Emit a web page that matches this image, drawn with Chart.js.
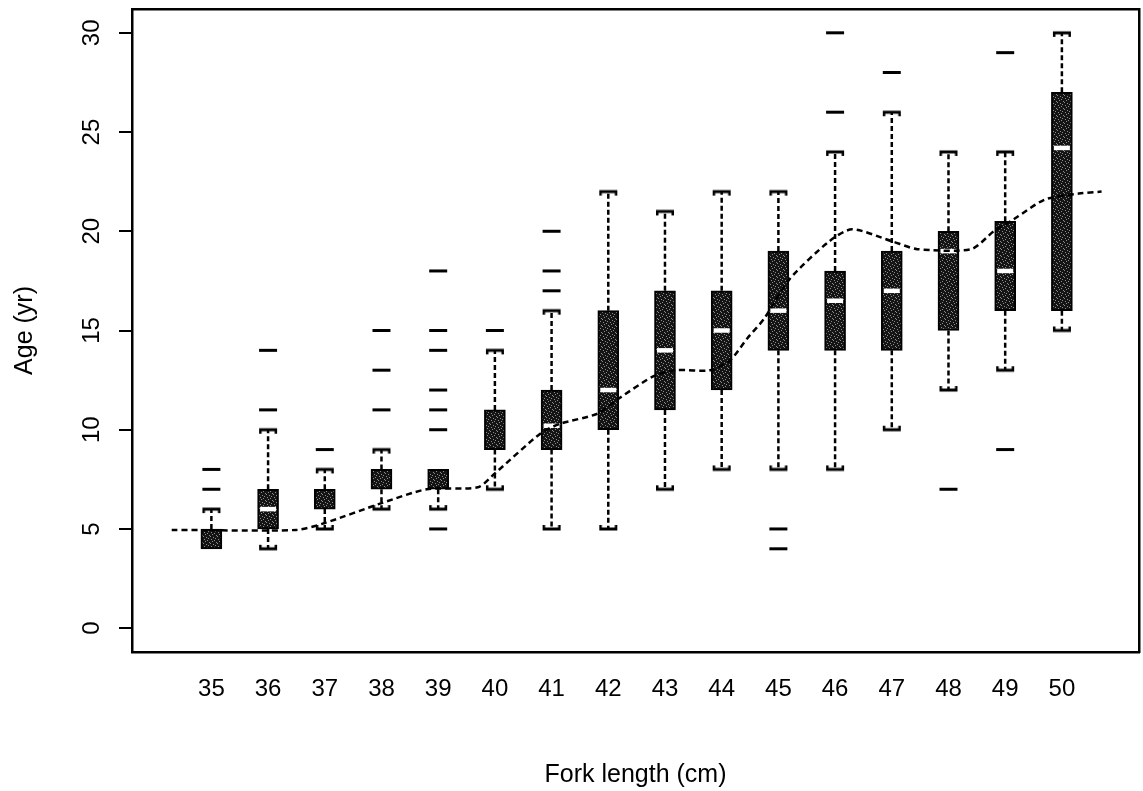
<!DOCTYPE html>
<html>
<head>
<meta charset="utf-8">
<script src="https://cdn.jsdelivr.net/npm/chart.js@4"></script>
<style>
  html, body { margin: 0; padding: 0; background: #fff; }
  #wrap { width: 1143px; height: 791px; position: relative; }
</style>
</head>
<body>
<div id="wrap"><canvas id="c" width="1143" height="791"></canvas></div>
<script>
// ---- data ----
const categories = [35, 36, 37, 38, 39, 40, 41, 42, 43, 44, 45, 46, 47, 48, 49, 50];
const q1     = [4,   5,   6,   7,   7,   9,  9,    10, 11, 12, 14, 14,   14, 15, 16,   16];
const median = [null, 6, null, null, null, null, 10.2, 12, 14, 15, 16, 16.5, 17, 19, 18, 24.2];
const q3     = [5,   7,   7,   8,   8,   11, 12,   16, 17, 17, 19, 18,   19, 20, 20.5, 27];
const whiskLo = [4,  4,   5,   6,   6,   7,  5,    5,  7,  8,  8,  8,    10, 12, 13,   15];
const whiskHi = [6,  10,  8,   9,   8,   14, 16,   22, 21, 22, 22, 24,   26, 24, 24,   30];
const outliers = [
  [7, 8], [11, 14], [9], [11, 13, 15], [5, 10, 11, 12, 14, 15, 18], [15],
  [17, 18, 20], [], [], [], [4, 5], [26, 30], [28], [7], [9, 29], []
];
const trendX = [34.3, 36.5, 37.0, 38.0, 38.8, 39.7, 40.0, 40.8, 41.15, 41.8, 42.2, 42.8, 43.2, 43.8,
                44.15, 44.45, 44.75, 45.2, 45.9, 46.3, 47.0, 47.45, 48.4, 48.8, 49.15, 49.7, 50.3, 50.7];
const trendY = [4.95, 4.95, 5.3, 6.3, 7.0, 7.1, 7.8, 9.8, 10.3, 10.8, 11.6, 12.7, 13.0, 13.0,
                13.5, 14.6, 15.6, 17.6, 19.5, 20.1, 19.5, 19.1, 19.1, 20.0, 20.6, 21.6, 21.9, 22.0];
const yTicks = [0, 5, 10, 15, 20, 25, 30];
const xTitle = 'Fork length (cm)';
const yTitle = 'Age (yr)';

// ---- styling helpers ----
const FONT = "'Liberation Sans', Arial, Helvetica, sans-serif";
const canvas = document.getElementById('c');
const ctx = canvas.getContext('2d');

function speckle() {
  const c = document.createElement('canvas');
  c.width = 7; c.height = 7;
  const g = c.getContext('2d');
  g.fillStyle = '#141414'; g.fillRect(0, 0, 7, 7);
  g.fillStyle = '#8c8c8c';
  [[1,0],[4,1],[6,3],[0,4],[3,5],[5,6],[2,2]].forEach(p => g.fillRect(p[0], p[1], 1, 1));
  return ctx.createPattern(c, 'repeat');
}
function capImage(top) {
  const c = document.createElement('canvas');
  c.width = 20; c.height = 16;
  const g = c.getContext('2d');
  g.fillStyle = '#000';
  g.fillRect(1, 6.5, 18, 3);
  if (top) { g.fillRect(1, 7, 2.5, 5); g.fillRect(16.5, 7, 2.5, 5); }
  else { g.fillRect(1, 4, 2.5, 5); g.fillRect(16.5, 4, 2.5, 5); }
  return c;
}
function noPad(s) { s.paddingTop = 0; s.paddingBottom = 0; s.paddingLeft = 0; s.paddingRight = 0; }

// ---- build datasets from the arrays ----
const boxData = categories.map((c, i) => ({ x: c, y: [q1[i], q3[i]] }));
const medData = categories.map((c, i) => ({ x: c, y: median[i] })).filter(p => p.y !== null);
const whiskData = [];
categories.forEach((c, i) => {
  whiskData.push({ x: c, y: q3[i] }, { x: c, y: whiskHi[i] }, { x: c, y: null });
  whiskData.push({ x: c, y: q1[i] }, { x: c, y: whiskLo[i] }, { x: c, y: null });
});
const capTop = categories.map((c, i) => ({ x: c, y: whiskHi[i] })).filter((p, i) => whiskHi[i] > q3[i]);
const capBot = categories.map((c, i) => ({ x: c, y: whiskLo[i] })).filter((p, i) => whiskLo[i] < q1[i]);
const outData = [];
categories.forEach((c, i) => outliers[i].forEach(v => outData.push({ x: c, y: v })));
const trendData = trendX.map((x, i) => ({ x: x, y: trendY[i] }));

const xMin = 33.6, xMax = 51.36, yMin = -1.2, yMax = 31.2;

new Chart(ctx, {
  type: 'bar',
  data: {
    datasets: [
      { type: 'line', data: trendData, borderColor: '#000', borderWidth: 2.5, borderDash: [6, 4],
        pointRadius: 0, tension: 0.25, fill: false, order: 0 },
      { type: 'scatter', data: medData, pointStyle: 'line', pointRadius: 8,
        pointBorderColor: '#fff', pointBorderWidth: 4.5, order: 1 },
      { type: 'scatter', data: outData, pointStyle: 'line', pointRadius: 9,
        pointBorderColor: '#000', pointBorderWidth: 3, order: 2 },
      { type: 'scatter', data: capTop, pointStyle: capImage(true), pointRadius: 10, order: 2 },
      { type: 'scatter', data: capBot, pointStyle: capImage(false), pointRadius: 10, order: 2 },
      { type: 'bar', data: boxData, backgroundColor: speckle(), borderColor: '#000', borderWidth: 2,
        borderSkipped: false, barThickness: 21, order: 3 },
      { type: 'line', data: whiskData, borderColor: '#000', borderWidth: 2.5, borderDash: [5, 3],
        pointRadius: 0, spanGaps: false, tension: 0, fill: false, order: 4 }
    ]
  },
  options: {
    responsive: false,
    animation: false,
    events: [],
    layout: { autoPadding: false, padding: { top: 9, right: 4, left: 0, bottom: 0 } },
    plugins: { legend: { display: false }, tooltip: { enabled: false } },
    scales: {
      x: {
        type: 'linear', position: 'bottom', min: xMin, max: xMax, offset: false,
        afterBuildTicks: s => { s.ticks = categories.map(v => ({ value: v })); },
        afterFit: s => { s.height = 139; noPad(s); },
        grid: { display: false, drawTicks: false, offset: false },
        border: { display: true, color: '#000', width: 2.5 },
        ticks: { color: '#000', font: { family: FONT, size: 24 }, padding: 23,
                 autoSkip: false, maxRotation: 0, minRotation: 0, callback: v => String(v) },
        title: { display: true, text: xTitle, color: '#000', font: { family: FONT, size: 25 },
                 padding: { top: 0, bottom: 1 } }
      },
      x2: {
        type: 'linear', position: 'top', min: xMin, max: xMax, offset: false,
        afterFit: s => { s.height = 0; noPad(s); },
        grid: { display: false, drawTicks: false },
        border: { display: true, color: '#000', width: 2.5 },
        ticks: { display: false }
      },
      y: {
        type: 'linear', position: 'left', min: yMin, max: yMax,
        afterBuildTicks: s => { s.ticks = yTicks.map(v => ({ value: v })); },
        afterFit: s => { s.width = 132; noPad(s); },
        grid: { display: true, drawOnChartArea: false, drawTicks: true, tickLength: 13,
                color: '#000', lineWidth: 2 },
        border: { display: true, color: '#000', width: 2.5 },
        ticks: { color: '#000', font: { family: FONT, size: 24 }, padding: 13,
                 minRotation: 90, maxRotation: 90, crossAlign: 'center', callback: v => String(v) },
        title: { display: true, text: yTitle, color: '#000', font: { family: FONT, size: 25 },
                 padding: { top: 10, bottom: 0 } }
      },
      y2: {
        type: 'linear', position: 'right', min: yMin, max: yMax,
        afterFit: s => { s.width = 0; noPad(s); },
        grid: { display: false, drawTicks: false },
        border: { display: true, color: '#000', width: 2.5 },
        ticks: { display: false }
      }
    }
  }
});
</script>
</body>
</html>
